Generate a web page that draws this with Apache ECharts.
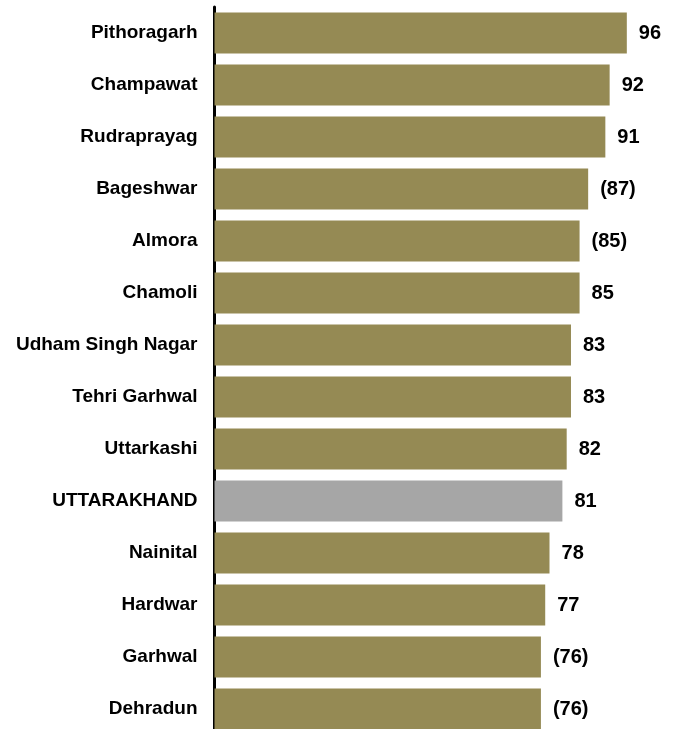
<!DOCTYPE html>
<html><head><meta charset="utf-8">
<script src="https://cdn.jsdelivr.net/npm/echarts@6/dist/echarts.min.js"></script>
<style>html,body{margin:0;padding:0;background:#fff;overflow:hidden}#c{width:675px;height:760px}</style>
</head><body><div id="c"></div>
<script>
const districts = ["Pithoragarh","Champawat","Rudraprayag","Bageshwar","Almora","Chamoli","Udham Singh Nagar","Tehri Garhwal","Uttarkashi","UTTARAKHAND","Nainital","Hardwar","Garhwal","Dehradun"];
const values = [96,92,91,87,85,85,83,83,82,81,78,77,76,76];
const valueLabels = ["96","92","91","(87)","(85)","85","83","83","82","81","78","77","(76)","(76)"];
const highlight = "UTTARAKHAND";

const chart = echarts.init(document.getElementById('c'), null, {renderer:'canvas'});
chart.setOption({
  animation:false,
  grid:{left:214.5, top:7, width:429.5, height:728, containLabel:false},
  xAxis:{type:'value', min:0, max:100, show:false},
  yAxis:{type:'category', inverse:true, data:districts,
    axisLine:{show:true, lineStyle:{color:'#000', width:3}},
    axisTick:{show:false},
    axisLabel:{color:'#000', fontFamily:'Liberation Sans, Arial, sans-serif', fontWeight:'bold', fontSize:19, margin:17}
  },
  series:[{
    type:'bar', barWidth:41,
    data: values.map((v,i)=>({value:v, itemStyle:{color: districts[i]===highlight ? '#A6A6A6' : '#958A54'}})),
    label:{show:true, position:'right', distance:12, color:'#000', fontFamily:'Liberation Sans, Arial, sans-serif', fontWeight:'bold', fontSize:20,
      formatter:p=>valueLabels[p.dataIndex]}
  }]
});
</script></body></html>
